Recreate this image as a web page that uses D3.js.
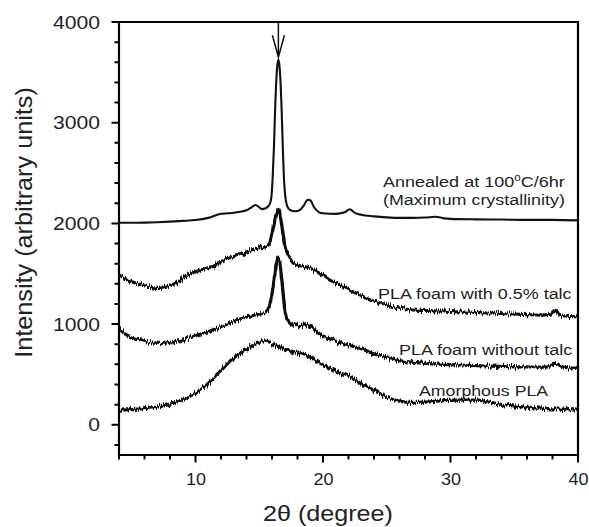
<!DOCTYPE html>
<html>
<head>
<meta charset="utf-8">
<script src="https://cdn.jsdelivr.net/npm/d3@7"></script>
<style>
  html, body { margin: 0; padding: 0; background: #fff; }
  svg { display: block; font-family: Arial, "Liberation Sans", Helvetica, sans-serif; }
</style>
</head>
<body>
<svg id="chart" width="589" height="527" viewBox="0 0 589 527"></svg>
<script>
// ---- data (2θ in degrees, intensity in arbitrary units) ----
const annealed = [
  [4,2006],[5,2006],[6,2008],[7,2012],[8,2018],[9,2025],[10,2033],[11,2055],[12,2095],
  [12.5,2100],[13,2105],[13.5,2115],[14,2130],[14.4,2160],[14.7,2182],[15.0,2160],[15.2,2142],
  [15.5,2150],[15.7,2170],[15.85,2200],[15.95,2260],[16.05,2450],[16.15,2750],[16.25,3150],
  [16.35,3450],[16.45,3600],[16.5,3625],[16.55,3600],[16.65,3450],[16.75,3150],[16.85,2750],
  [16.95,2420],[17.05,2260],[17.2,2170],[17.4,2135],[17.8,2120],[18.2,2135],[18.5,2180],
  [18.8,2235],[19.0,2230],[19.3,2160],[19.7,2110],[20,2100],[21,2095],[21.7,2110],[22.1,2140],
  [22.5,2105],[23,2085],[24,2070],[25,2060],[26,2055],[27,2055],[28,2058],[28.8,2066],
  [29.5,2050],[30,2045],[32,2040],[34,2038],[36,2035],[38,2035],[40,2030]
];
const foamTalc = [
  [4,1490],[4.5,1450],[5,1420],[5.5,1400],[6,1380],[6.5,1365],[7,1355],[7.5,1360],[8,1380],
  [8.5,1410],[9,1450],[9.5,1490],[10,1520],[10.5,1540],[11,1560],[11.5,1580],[12,1620],
  [12.5,1650],[13,1670],[13.5,1690],[14,1715],[14.5,1740],[15,1755],[15.5,1770],[15.8,1800],
  [16.0,1900],[16.2,2020],[16.4,2110],[16.5,2130],[16.6,2100],[16.8,1950],[17.0,1780],
  [17.3,1680],[17.65,1610],[18.2,1580],[18.6,1570],[19,1555],[19.5,1520],[20,1480],[20.5,1440],
  [21,1410],[21.6,1370],[22.2,1330],[22.9,1290],[23.5,1250],[24.5,1210],[25.3,1180],[26,1160],
  [27,1140],[28,1135],[29,1130],[30,1125],[31,1120],[32,1115],[33,1110],[34,1105],[35,1100],
  [36,1095],[37,1090],[37.8,1095],[38.2,1140],[38.5,1100],[39,1080],[40,1072]
];
const foamNoTalc = [
  [4,960],[4.5,900],[5,870],[5.5,850],[6,830],[6.5,815],[7,808],[7.5,810],[8,820],[8.5,830],
  [9,841],[9.5,860],[10,885],[10.5,905],[11,925],[11.5,950],[12,975],[12.5,1000],[13,1025],
  [13.5,1050],[14,1070],[14.5,1085],[15,1100],[15.5,1120],[15.8,1180],[16.0,1300],[16.2,1480],
  [16.4,1640],[16.5,1665],[16.6,1620],[16.8,1400],[17.0,1150],[17.2,1040],[17.65,990],
  [18.2,985],[18.8,995],[19.3,950],[19.8,895],[20.5,855],[21,830],[21.6,808],[22.2,785],
  [22.9,760],[23.5,730],[24.2,695],[24.7,675],[25.5,650],[26.5,628],[27.5,615],[28.5,605],
  [30,598],[31.5,590],[33,583],[34.5,578],[36,575],[37.5,572],[38.3,608],[38.7,580],[39.3,565],[40,560]
];
const amorphous = [
  [4,146],[5,150],[6,160],[7,175],[8,205],[8.9,245],[9.5,280],[10.2,328],[11,410],[11.5,477],
  [12,540],[12.8,643],[13.5,710],[14.1,759],[14.7,800],[15.2,824],[15.6,820],[16.1,800],
  [16.6,770],[17.4,735],[18.2,709],[19,670],[19.6,625],[20.3,576],[21.2,525],[22.1,477],
  [23.1,400],[24.2,328],[25,275],[26,235],[27,222],[28,225],[29.4,240],[30.5,245],[32,245],
  [33,225],[34.7,190],[36,175],[37.3,163],[38.5,155],[40,146]
];
const xMajorTicks = [10, 20, 30, 40];
const xMinorTicks = d3.range(4, 40.01, 2);
const yMajorTicks = [0, 1000, 2000, 3000, 4000];
const yMinorTicks = d3.range(-200, 4000.01, 200);
const arrowPeak = [16.5, 3650];

// ---- layout ----
const svg = d3.select("#chart");
const L = 119, R = 578, T = 22, B = 455;
const x = d3.scaleLinear().domain([4, 40]).range([L, R]);
const y = d3.scaleLinear().domain([-300, 4000]).range([B, T]);
const ink = "#111111";

// ---- axis frame first (under the data) ----
const frame = d3.path();
frame.moveTo(L, T); frame.lineTo(R, T); frame.lineTo(R, B); frame.lineTo(L, B); frame.closePath();
svg.append("path").attr("class", "frame").attr("d", frame.toString())
  .style("fill", "none").style("stroke", "#000").style("stroke-width", "2.2px");

const ticks = d3.path();
yMinorTicks.forEach(v => { ticks.moveTo(L - 4.5, y(v)); ticks.lineTo(L, y(v)); });
yMajorTicks.forEach(v => { ticks.moveTo(L - 7.5, y(v)); ticks.lineTo(L, y(v)); });
xMinorTicks.forEach(v => { ticks.moveTo(x(v), B); ticks.lineTo(x(v), B + 4.5); });
xMajorTicks.forEach(v => { ticks.moveTo(x(v), B); ticks.lineTo(x(v), B + 7.5); });
svg.append("path").attr("class", "tickmarks").attr("d", ticks.toString())
  .style("fill", "none").style("stroke", "#000").style("stroke-width", "2px");

// rough-line texture (visual only: vertical jitter of the stroke)
const defs = svg.append("defs");
const f = defs.append("filter").attr("id", "rough")
  .attr("x", "-2%").attr("y", "-10%").attr("width", "104%").attr("height", "120%");
f.append("feTurbulence").attr("type", "fractalNoise").attr("baseFrequency", "0.85 0.06")
  .attr("numOctaves", 2).attr("seed", 7).attr("result", "n");
f.append("feColorMatrix").attr("in", "n").attr("type", "matrix")
  .attr("values", "1 0 0 0 0  0 0 0 0 0.5  0 0 1 0 0  0 0 0 0 1").attr("result", "m");
f.append("feDisplacementMap").attr("in", "SourceGraphic").attr("in2", "m")
  .attr("scale", 8).attr("xChannelSelector", "G").attr("yChannelSelector", "R");

const line = d3.line().x(d => x(d[0])).y(d => y(d[1])).curve(d3.curveMonotoneX);

[foamTalc, foamNoTalc, amorphous].forEach(s => {
  svg.append("path").datum(s).attr("d", line)
    .attr("fill", "none").attr("stroke", ink).attr("stroke-width", 3.2)
    .attr("stroke-linejoin", "round").attr("filter", "url(#rough)");
});
svg.append("path").datum(annealed).attr("d", line)
  .attr("fill", "none").attr("stroke", ink).attr("stroke-width", 2.1)
  .attr("stroke-linejoin", "round");

// ---- tick labels via d3 axes ----
const yAxis = d3.axisLeft(y).tickValues(yMajorTicks).tickSize(0).tickPadding(19)
  .tickFormat(d3.format("d"));
const xAxis = d3.axisBottom(x).tickValues(xMajorTicks).tickSize(0).tickPadding(18.6)
  .tickFormat(d3.format("d"));
const gy = svg.append("g").attr("transform", `translate(${L},0)`).call(yAxis);
const gx = svg.append("g").attr("transform", `translate(0,${B})`).call(xAxis);
gy.select(".domain").remove();
gx.select(".domain").remove();
gy.selectAll(".tick line").remove();
gx.selectAll(".tick line").remove();

gy.selectAll(".tick text").attr("font-size", 19).attr("fill", "#222")
  .attr("font-family", "Arial, 'Liberation Sans', sans-serif")
  .attr("textLength", function () { return this.textContent.length * 11.75; })
  .attr("lengthAdjust", "spacingAndGlyphs");
gx.selectAll(".tick text").attr("font-size", 16).attr("fill", "#222")
  .attr("font-family", "Arial, 'Liberation Sans', sans-serif")
  .attr("textLength", function () { return this.textContent.length * 10; })
  .attr("lengthAdjust", "spacingAndGlyphs");

// ---- arrow at main peak ----
const ax = x(arrowPeak[0]), tipY = y(arrowPeak[1]);
svg.append("path")
  .attr("d", `M${ax},${T}V${tipY}M${ax - 6},${tipY - 22}L${ax},${tipY}L${ax + 6},${tipY - 22}`)
  .attr("fill", "none").attr("stroke", ink).attr("stroke-width", 1.5);

// ---- text helper: fit text horizontally between x0 and x1 ----
function fitText(sel, x0, x1, baseline) {
  const w = sel.node().getBBox().width;
  const s = (x1 - x0) / w;
  sel.attr("x", 0).attr("y", 0).attr("text-anchor", "start")
    .attr("transform", `translate(${x0},${baseline}) scale(${s},1)`);
}
function label(txt, size) {
  return svg.append("text").attr("font-size", size).attr("fill", "#222").text(txt);
}

const ann = svg.append("text").attr("font-size", 15.5).attr("fill", "#222");
ann.append("tspan").text("Annealed at 100");
ann.append("tspan").attr("font-size", 10).attr("dy", -6).text("o");
ann.append("tspan").attr("dy", 6).text("C/6hr");
fitText(ann, 383, 565, 187);
fitText(label("(Maximum crystallinity)", 15.5), 383, 565, 205);
fitText(label("PLA foam with 0.5% talc", 15.5), 378, 572, 299);
fitText(label("PLA foam without talc", 15.5), 399, 572.5, 355);
fitText(label("Amorphous PLA", 15.5), 419, 549, 396);

fitText(label("2\u03B8 (degree)", 22), 263, 393, 521);

const yt = svg.append("text").attr("font-size", 23.5).attr("fill", "#222")
  .text("Intensity (arbitrary units)");
const ytw = yt.node().getBBox().width;
yt.attr("text-anchor", "middle")
  .attr("transform", `translate(32,222.5) rotate(-90) scale(${271 / ytw},1)`);
</script>
</body>
</html>
